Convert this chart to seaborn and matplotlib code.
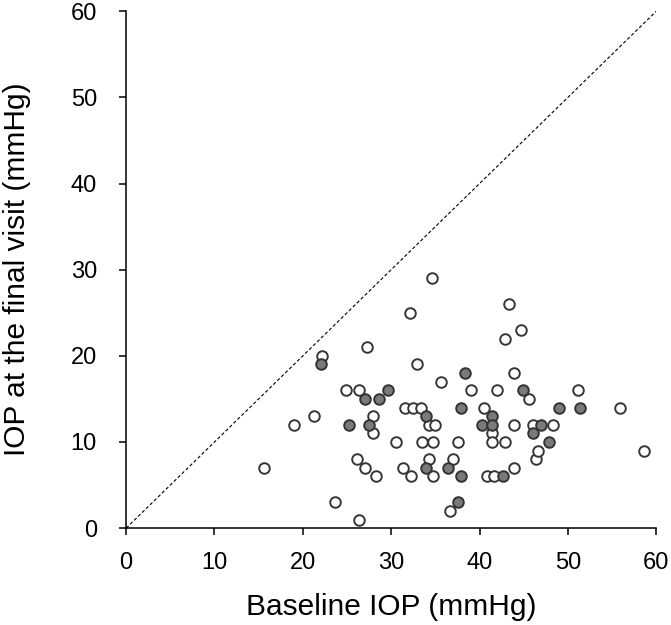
import matplotlib
matplotlib.use('Agg')
import matplotlib.pyplot as plt
import pandas as pd
import seaborn as sns

# points drawn as open circles
open_x = [15.6, 19.0, 21.3, 22.2, 23.6, 24.9, 26.4, 26.1, 26.4, 27.0, 27.3, 27.9, 27.9, 28.3,
          30.5, 31.3, 31.6, 32.1, 32.2, 32.5, 32.9, 33.4, 33.5, 34.3, 34.3, 34.6, 34.7, 34.7,
          35.0, 35.6, 36.6, 37.0, 37.6, 39.0, 40.5, 40.8, 41.4, 41.4, 41.6, 42.0, 42.9, 42.9,
          43.3, 43.9, 43.9, 43.9, 44.7, 45.6, 46.0, 46.4, 46.6, 48.3, 51.2, 55.9, 58.6]
open_y = [7, 12, 13, 20, 3, 16, 16, 8, 1, 7, 21, 13, 11, 6,
          10, 7, 14, 25, 6, 14, 19, 14, 10, 12, 8, 29, 10, 6,
          12, 17, 2, 8, 10, 16, 14, 6, 11, 10, 6, 16, 22, 10,
          26, 18, 12, 7, 23, 15, 12, 8, 9, 12, 16, 14, 9]

# points drawn as grey filled circles
filled_x = [22.1, 25.2, 27.0, 27.5, 28.6, 29.6, 33.9, 33.9, 36.4, 37.9, 37.9, 37.6,
            38.3, 40.3, 41.4, 41.4, 42.6, 44.9, 46.0, 46.9, 47.9, 49.0, 51.4]
filled_y = [19, 12, 15, 12, 15, 16, 13, 7, 7, 14, 6, 3,
            18, 12, 13, 12, 6, 16, 11, 12, 10, 14, 14]

df_open = pd.DataFrame({'baseline': open_x, 'final': open_y})
df_filled = pd.DataFrame({'baseline': filled_x, 'final': filled_y})

sns.set_style('white')
plt.rcParams['font.family'] = ['Liberation Sans', 'DejaVu Sans']

fig, ax = plt.subplots(figsize=(6.71, 6.25), dpi=100)
fig.subplots_adjust(left=0.188, right=0.978, bottom=0.155, top=0.982)

# ligne d'égalité
ax.plot([0, 60], [0, 60], color='black', lw=0.8, linestyle=(0, (3, 2)), zorder=1)

sns.scatterplot(data=df_open, x='baseline', y='final', ax=ax, color='white',
                edgecolor='#363636', linewidth=1.4, s=58, zorder=2)
sns.scatterplot(data=df_filled, x='baseline', y='final', ax=ax, color='#7a7a7a',
                edgecolor='#333333', linewidth=1.4, s=58, zorder=3)

ax.set_xlim(0, 60)
ax.set_ylim(0, 60)
ax.set_xticks(range(0, 61, 10))
ax.set_yticks(range(0, 61, 10))
sns.despine(ax=ax)
for side in ['left', 'bottom']:
    ax.spines[side].set_color('black')
    ax.spines[side].set_linewidth(1.1)
ax.tick_params(axis='both', direction='out', length=5, width=1.1, color='black',
               labelsize=17, labelcolor='black', left=True, bottom=True)
ax.tick_params(axis='x', pad=12)
ax.tick_params(axis='y', pad=16)

ax.set_xlabel('Baseline IOP (mmHg)', fontsize=21.5, color='black')
ax.set_ylabel('IOP at the final visit (mmHg)', fontsize=21.5, color='black')
ax.xaxis.set_label_coords(0.5, -0.125)
ax.yaxis.set_label_coords(-0.18, 0.5)

plt.savefig('out.png', dpi=100)
